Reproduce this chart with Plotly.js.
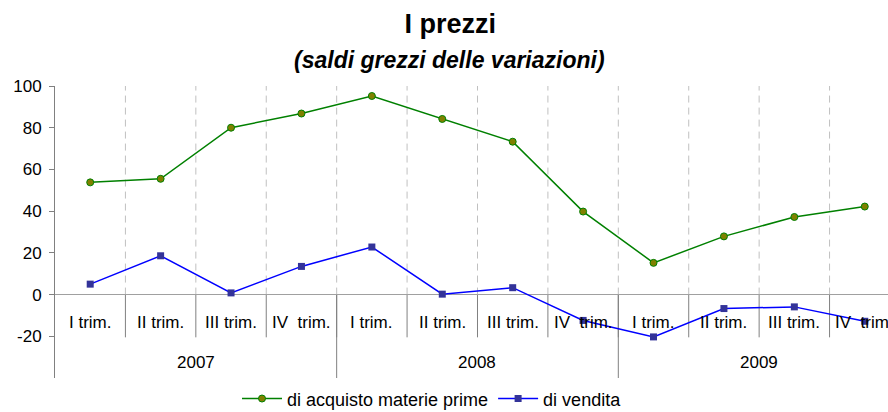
<!DOCTYPE html>
<html><head><meta charset="utf-8">
<script src="https://cdn.plot.ly/plotly-3.0.1.min.js"></script>
<style>html,body{margin:0;padding:0;background:#fff}#chart{width:888px;height:412px}</style>
</head><body><div id="chart"></div>
<script>
const quarters = ['I trim.','II trim.','III trim.','IV  trim.','I trim.','II trim.','III trim.','IV  trim.','I trim.','II trim.','III trim.','IV  trim.'];
const years = ['2007','2008','2009'];
const quartersPerYear = 4;
const acquisto = [53.8, 55.5, 80.0, 86.8, 95.2, 84.2, 73.3, 39.8, 15.2, 27.9, 37.2, 42.2];
const vendita = [5.0, 18.6, 0.8, 13.5, 22.8, 0.2, 3.3, -12.4, -20.3, -6.7, -5.9, -12.8];
const yTicks = [-20, 0, 20, 40, 60, 80, 100];
const seriesNames = ['di acquisto materie prime', 'di vendita'];

const FONT = 'Liberation Sans, Arial, sans-serif';
const xIdx = quarters.map((_, i) => i);

const traces = [
  {x: xIdx, y: acquisto, name: seriesNames[0], type: 'scatter', mode: 'lines+markers',
   line: {color: '#008000', width: 1.5},
   marker: {symbol: 'circle', size: 7, color: '#808000', line: {color: '#008000', width: 1}}},
  {x: xIdx, y: vendita, name: seriesNames[1], type: 'scatter', mode: 'lines+markers',
   line: {color: '#0000FF', width: 1.5},
   marker: {symbol: 'square', size: 7, color: '#333399', line: {color: '#333399', width: 0}}}
];

const shapes = [];
for (let i = 0; i < quarters.length; i++) {
  const b = i + 0.5;
  shapes.push({type: 'line', xref: 'x', yref: 'y', x0: b, x1: b, y0: 0, y1: 100, layer: 'below',
    line: {color: '#c0c0c0', width: 1, dash: '7px,5px'}});
  shapes.push({type: 'line', xref: 'x', yref: 'y', x0: b, x1: b, y0: 0, y1: -20.5, layer: 'below',
    line: {color: '#808080', width: 1}});
}
for (let g = 1; g <= years.length; g++) {
  const b = g * quartersPerYear - 0.5;
  shapes.push({type: 'line', xref: 'x', yref: 'y', x0: b, x1: b, y0: 0, y1: -40, layer: 'below',
    line: {color: '#808080', width: 1}});
}

const annotations = [];
quarters.forEach((q, i) => {
  annotations.push({x: i, y: -13.2, xref: 'x', yref: 'y', text: q, showarrow: false,
    xanchor: 'center', yanchor: 'middle', font: {family: FONT, size: 17, color: '#000'}});
});
years.forEach((yr, g) => {
  annotations.push({x: g * quartersPerYear + (quartersPerYear - 1) / 2, y: -32.8, xref: 'x', yref: 'y',
    text: yr, showarrow: false, xanchor: 'center', yanchor: 'middle',
    font: {family: FONT, size: 17, color: '#000'}});
});
annotations.push({x: 0.474, y: 1.089, xref: 'paper', yref: 'paper', showarrow: false,
  text: '<b><i>(saldi grezzi delle variazioni)</i></b>', xanchor: 'center', yanchor: 'middle',
  font: {family: FONT, size: 23, color: '#000'}});

const layout = {
  width: 888, height: 412,
  paper_bgcolor: '#fff', plot_bgcolor: '#fff',
  margin: {l: 55, r: 0, t: 86, b: 34, autoexpand: false},
  title: {text: '<b>I prezzi</b>', x: 0.507, xanchor: 'center', y: 0.944, yanchor: 'middle',
    font: {family: FONT, size: 27, color: '#000'}},
  xaxis: {range: [-0.5, 11.33], showgrid: false, zeroline: false, showline: false,
    showticklabels: false, ticks: '', fixedrange: true},
  yaxis: {range: [-40, 100], tickvals: yTicks, ticktext: yTicks.map(String),
    showgrid: false, zeroline: true, zerolinecolor: '#a0a0a0', zerolinewidth: 1,
    showline: true, linecolor: '#808080', linewidth: 1,
    ticks: 'outside', ticklen: 5, tickcolor: '#808080', ticklabelstandoff: 4,
    tickfont: {family: FONT, size: 17, color: '#000'}, fixedrange: true},
  showlegend: true,
  legend: {orientation: 'h', xref: 'container', yref: 'container', x: 0.4865, xanchor: 'center',
    y: 0.032, yanchor: 'middle', bgcolor: 'rgba(0,0,0,0)', itemwidth: 40,
    font: {family: FONT, size: 18, color: '#000'}},
  shapes: shapes,
  annotations: annotations
};

Plotly.newPlot('chart', traces, layout, {displayModeBar: false, staticPlot: true});
</script>
</body></html>
